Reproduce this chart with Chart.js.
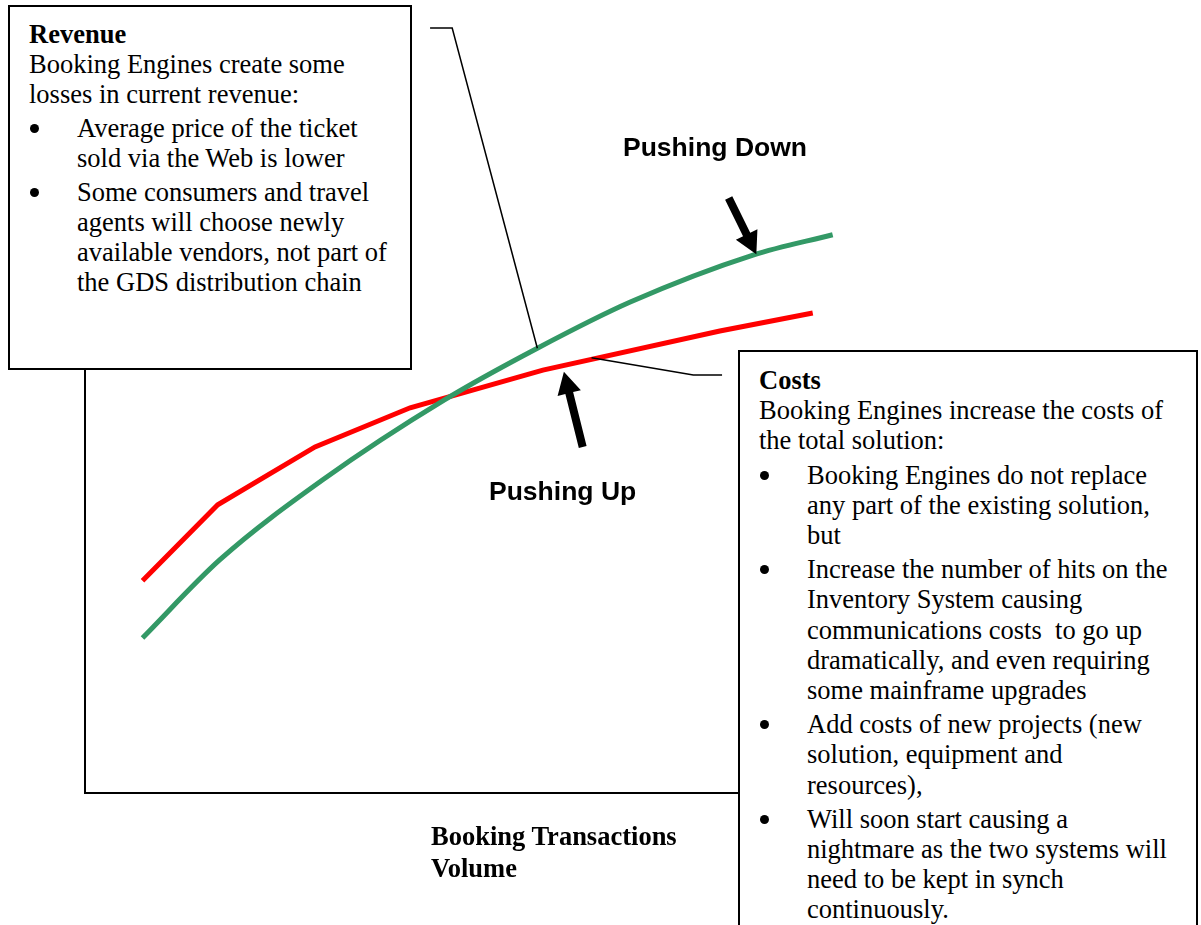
<!DOCTYPE html>
<html>
<head>
<meta charset="utf-8">
<script src="https://cdn.jsdelivr.net/npm/chart.js@4.4.1/dist/chart.umd.min.js"></script>
<style>
  html, body { margin: 0; padding: 0; background: #fff; overflow: hidden; }
  #wrap { position: relative; width: 1201px; height: 925px; overflow: hidden; }
  #chart { position: absolute; left: 0; top: 0; }
  .box {
    position: absolute; box-sizing: border-box; background: #fff; border: 2px solid #000;
    font-family: "Liberation Serif", "Times New Roman", serif; font-size: 26.5px;
    line-height: 30px; color: #000; white-space: nowrap;
  }
  .box b, .box span { display: block; }
  .item { position: relative; padding-left: 48px; margin-top: 4px; }
  .item:before {
    content: ""; position: absolute; left: 1px; top: 11px;
    width: 9px; height: 9px; border-radius: 50%; background: #000;
  }
  .lbl {
    position: absolute; font-family: "Liberation Sans", Arial, sans-serif; font-weight: bold;
    font-size: 26.5px; line-height: 30px; white-space: nowrap; color: #000;
  }
  .axis {
    position: absolute; font-family: "Liberation Serif", "Times New Roman", serif; font-weight: bold;
    font-size: 26.5px; line-height: 32px; white-space: nowrap; color: #000;
  }
</style>
</head>
<body>
<div id="wrap">
  <canvas id="chart" width="1201" height="925"></canvas>

  <div class="lbl" style="left:623px; top:132px;">Pushing Down</div>
  <div class="lbl" style="left:489px; top:476px;">Pushing Up</div>
  <div class="axis" style="left:431px; top:820px;">Booking Transactions<br>Volume</div>

  <div class="box" style="left:8px; top:5px; width:404px; height:365px; padding:12px 0 0 19px;">
    <b>Revenue</b>
    <span>Booking Engines create some</span>
    <span>losses in current revenue:</span>
    <div class="item"><span>Average price of the ticket</span><span>sold via the Web is lower</span></div>
    <div class="item"><span>Some consumers and travel</span><span>agents will choose newly</span><span>available vendors, not part of</span><span>the GDS distribution chain</span></div>
  </div>

  <div class="box" style="left:738px; top:350px; width:460px; height:640px; padding:13px 0 0 19px; line-height:30.2px;">
    <b>Costs</b>
    <span>Booking Engines increase the costs of</span>
    <span>the total solution:</span>
    <div class="item"><span>Booking Engines do not replace</span><span>any part of the existing solution,</span><span>but</span></div>
    <div class="item"><span>Increase the number of hits on the</span><span>Inventory System causing</span><span>communications costs&nbsp; to go up</span><span>dramatically, and even requiring</span><span>some mainframe upgrades</span></div>
    <div class="item"><span>Add costs of new projects (new</span><span>solution, equipment and</span><span>resources),</span></div>
    <div class="item"><span>Will soon start causing a</span><span>nightmare as the two systems will</span><span>need to be kept in synch</span><span>continuously.</span></div>
  </div>
</div>

<script>
// curves, in axis units (0-100 on both axes, no ticks shown)
var revenueX = [5.2, 12.2, 21.5, 32.5, 40.9, 49.3, 60.4, 67.6];
var revenueY = [19.8, 29.8, 40.0, 50.2, 56.8, 62.7, 68.7, 71.3];
var costsX = [5.2, 12.0, 20.8, 29.4, 41.4, 57.4, 65.8];
var costsY = [27.1, 36.8, 44.2, 49.2, 54.0, 59.0, 61.3];

// callout leader lines and the two arrows, also in axis units
var leaders = [
  [[31.2, 97.7], [33.2, 97.7], [40.9, 56.8]],
  [[45.8, 55.6], [55.0, 53.4], [57.6, 53.4]]
];
var arrows = [
  { from: [58.2, 76.0], to: [60.7, 68.8] },
  { from: [45.0, 44.2], to: [43.3, 53.8] }
];

function toPoints(xs, ys) {
  return xs.map(function (x, i) { return { x: x, y: ys[i] }; });
}

var annotate = {
  id: 'annotate',
  afterDatasetsDraw: function (chart) {
    var ctx = chart.ctx, sx = chart.scales.x, sy = chart.scales.y;
    function px(p) { return [sx.getPixelForValue(p[0]), sy.getPixelForValue(p[1])]; }
    ctx.save();
    ctx.strokeStyle = '#000';
    ctx.lineWidth = 1.5;
    leaders.forEach(function (pts) {
      ctx.beginPath();
      pts.forEach(function (p, i) {
        var q = px(p);
        if (i == 0) ctx.moveTo(q[0], q[1]); else ctx.lineTo(q[0], q[1]);
      });
      ctx.stroke();
    });
    ctx.fillStyle = '#000';
    arrows.forEach(function (a) {
      var t = px(a.from), h = px(a.to);
      var dx = h[0] - t[0], dy = h[1] - t[1];
      var len = Math.sqrt(dx * dx + dy * dy);
      var ux = dx / len, uy = dy / len, nx = -uy, ny = ux;
      var headLen = 22, headW = 12, shaftW = 4;
      var bx = h[0] - ux * headLen, by = h[1] - uy * headLen;
      ctx.beginPath();
      ctx.moveTo(t[0] + nx * shaftW, t[1] + ny * shaftW);
      ctx.lineTo(bx + nx * shaftW, by + ny * shaftW);
      ctx.lineTo(bx + nx * headW, by + ny * headW);
      ctx.lineTo(h[0], h[1]);
      ctx.lineTo(bx - nx * headW, by - ny * headW);
      ctx.lineTo(bx - nx * shaftW, by - ny * shaftW);
      ctx.lineTo(t[0] - nx * shaftW, t[1] - ny * shaftW);
      ctx.closePath();
      ctx.fill();
    });
    ctx.restore();
  }
};

new Chart(document.getElementById('chart'), {
  type: 'line',
  data: {
    datasets: [{
      label: 'Revenue',
      data: toPoints(revenueX, revenueY),
      borderColor: '#339966',
      borderWidth: 5,
      pointRadius: 0,
      cubicInterpolationMode: 'monotone',
      fill: false
    }, {
      label: 'Costs',
      data: toPoints(costsX, costsY),
      borderColor: '#ff0000',
      borderWidth: 5,
      pointRadius: 0,
      tension: 0,
      fill: false
    }]
  },
  options: {
    responsive: false,
    animation: false,
    events: [],
    layout: { autoPadding: false, padding: { left: 85, top: 10, right: 10, bottom: 132 } },
    plugins: { legend: { display: false }, tooltip: { enabled: false } },
    scales: {
      x: {
        type: 'linear', min: 0, max: 100,
        ticks: { display: false },
        grid: { display: false, drawTicks: false },
        border: { display: true, color: '#000', width: 2 }
      },
      y: {
        type: 'linear', min: 0, max: 100,
        ticks: { display: false },
        grid: { display: false, drawTicks: false },
        border: { display: true, color: '#000', width: 2 }
      }
    }
  },
  plugins: [annotate]
});
</script>
</body>
</html>
